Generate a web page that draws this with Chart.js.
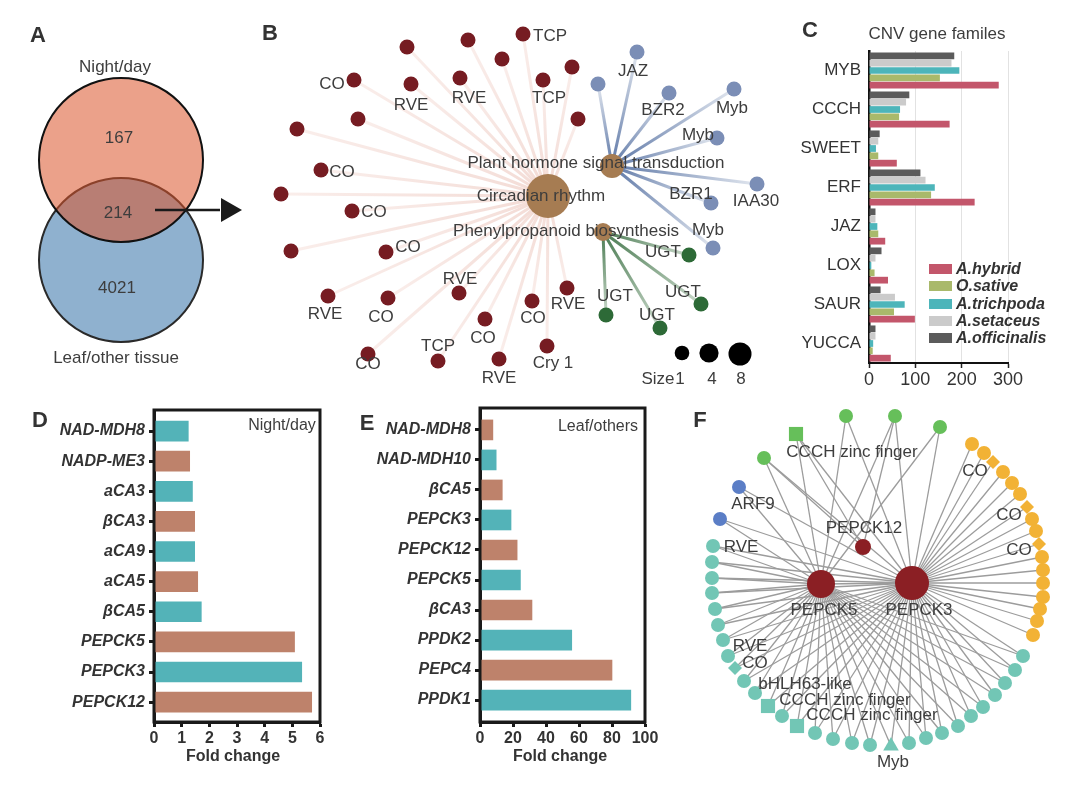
<!DOCTYPE html>
<html lang="en">
<head>
<meta charset="UTF-8">
<title>CNV and C4/CAM gene figure</title>
<script src="https://cdn.jsdelivr.net/npm/chart.js@4"></script>
<style>
    * { margin: 0; padding: 0; box-sizing: border-box; }
    body {
        width: 1076px; height: 807px; position: relative; overflow: hidden;
        background: #fff; color: #3d3d3d;
        font-family: 'Liberation Sans', Arial, sans-serif;
    }
    canvas { position: absolute; }
    .lbl {
        position: absolute; transform: translate(-50%, -50%);
        white-space: nowrap; font-size: 17px; line-height: 1;
    }
    .letter { font-weight: bold; font-size: 22px; color: #333; }
    .b { font-weight: bold; font-size: 16px; color: #333; }
    .sm { font-size: 16px; }
    .leg { position: absolute; height: 18px; }
    .leg span.sw { position: absolute; left: 0; top: 4px; width: 23px; height: 10px; }
    .leg span.tx { position: absolute; left: 27px; top: 0; font-size: 16px; line-height: 18px;
                   font-weight: bold; font-style: italic; color: #333; white-space: nowrap; }
</style>
</head>
<body>
<canvas id="net" width="1076" height="807" style="left:0;top:0"></canvas>
<canvas id="cnv" width="276" height="380" style="left:800px;top:20px"></canvas>
<canvas id="night" width="340" height="400" style="left:0;top:390px"></canvas>
<canvas id="leaf" width="340" height="400" style="left:340px;top:390px"></canvas>

<script>
// ---- A: Venn ----
const vennSets = ['Night/day', 'Leaf/other tissue'];
const vennCounts = [167, 214, 4021];   // night only, shared, leaf only
const vennCentres = [[121, 160], [121, 260]];

// ---- B: KEGG network (node positions in figure units) ----
const bCircadianHub = [548, 196];
const bHormoneHub = [612, 166];
const bPhenylHub = [603, 232];
const bCircadianGenes = [[407, 47], [468, 40], [523, 34], [502, 59], [354, 80], [411, 84], [460, 78],
    [543, 80], [572, 67], [578, 119], [358, 119], [297, 129], [321, 170], [281, 194], [352, 211],
    [291, 251], [386, 252], [328, 296], [388, 298], [459, 293], [485, 319], [532, 301], [567, 288],
    [438, 361], [499, 359], [547, 346], [368, 354]];
const bHormoneGenes = [[637, 52], [598, 84], [669, 93], [734, 89], [717, 138], [757, 184], [711, 203], [713, 248]];
const bPhenylGenes = [[689, 255], [701, 304], [660, 328], [606, 315]];
const bSizeKey = [1, 4, 8];

// ---- C: CNV gene families ----
const cnvFamilies = ['MYB', 'CCCH', 'SWEET', 'ERF', 'JAZ', 'LOX', 'SAUR', 'YUCCA'];
const cnvSpecies = ['A.officinalis', 'A.setaceus', 'A.trichpoda', 'O.sative', 'A.hybrid'];
const cnvOfficinalis = [184, 87, 23, 111, 14, 27, 25, 14];
const cnvSetaceus = [178, 80, 20, 122, 14, 14, 56, 14];
const cnvTrichpoda = [195, 67, 15, 142, 18, 5, 77, 9];
const cnvSative = [153, 65, 20, 134, 20, 12, 54, 8];
const cnvHybrid = [280, 174, 60, 228, 35, 41, 99, 47];

// ---- D: night/day fold change ----
const nightGenes = ['NAD-MDH8', 'NADP-ME3', 'aCA3', 'βCA3', 'aCA9', 'aCA5', 'βCA5', 'PEPCK5', 'PEPCK3', 'PEPCK12'];
const nightFold = [1.24, 1.29, 1.39, 1.47, 1.47, 1.58, 1.71, 5.08, 5.34, 5.70];

// ---- E: leaf/others fold change ----
const leafGenes = ['NAD-MDH8', 'NAD-MDH10', 'βCA5', 'PEPCK3', 'PEPCK12', 'PEPCK5', 'βCA3', 'PPDK2', 'PEPC4', 'PPDK1'];
const leafFold = [7.8, 9.8, 13.5, 18.8, 22.5, 24.5, 31.5, 55.6, 80, 91.4];

// ---- F: PEPCK co-expression network ----
const fPepck5 = [821, 584];
const fPepck3 = [912, 583];
const fPepck12 = [863, 547];
const fGreen = [[846, 416], [895, 416], [940, 427], [764, 458], [796, 434]];
const fGreenShapes = ['circle', 'circle', 'circle', 'circle', 'rect'];
const fGreenTo12 = [1, 3, 4];
const fBlue = [[739, 487], [720, 519]];
const fOrange = [[972, 444], [984, 453], [993, 462], [1003, 472], [1012, 483], [1020, 494], [1027, 507],
    [1032, 519], [1036, 531], [1039, 544], [1042, 557], [1043, 570], [1043, 583], [1043, 597],
    [1040, 609], [1037, 621], [1033, 635]];
const fOrangeShapes = ['circle', 'circle', 'rectRot', 'circle', 'circle', 'circle', 'rectRot', 'circle', 'circle',
    'rectRot', 'circle', 'circle', 'circle', 'circle', 'circle', 'circle', 'circle'];
const fTeal = [[713, 546], [712, 562], [712, 578], [712, 593], [715, 609], [718, 625], [723, 640], [728, 656],
    [735, 668], [744, 681], [755, 693], [768, 706], [782, 716], [797, 726], [815, 733], [833, 739],
    [852, 743], [870, 745], [891, 746], [909, 743], [926, 738], [942, 733], [958, 726], [971, 716],
    [983, 707], [995, 695], [1005, 683], [1015, 670], [1023, 656]];
const fTealShapes = fTeal.map((p, i) => i === 8 ? 'rectRot' : (i === 11 || i === 13) ? 'rect' : i === 18 ? 'triangle' : 'circle');

Chart.defaults.font.family = "'Liberation Sans', Arial, sans-serif";
Chart.defaults.color = '#333';

const pt = p => ({ x: p[0], y: p[1] });

// line between two nodes, optionally fading from hub colour to a paler end
function edge(a, b, c0, c1, w) {
    return {
        data: [pt(a), pt(b)], showLine: true, pointRadius: 0, borderWidth: w, order: 2,
        borderColor: function (ctx) {
            const ch = ctx.chart, sx = ch.scales.x, sy = ch.scales.y;
            if (!c1 || !sx || !sy) return c0;
            const x0 = sx.getPixelForValue(a[0]), y0 = sy.getPixelForValue(a[1]);
            const x1 = sx.getPixelForValue(b[0]), y1 = sy.getPixelForValue(b[1]);
            if (![x0, y0, x1, y1].every(Number.isFinite)) return c0;
            const g = ch.ctx.createLinearGradient(x0, y0, x1, y1);
            g.addColorStop(0, c0);
            g.addColorStop(1, c1);
            return g;
        }
    };
}
function nodes(list, r, color, shapes) {
    return { data: list.map(pt), pointRadius: r, pointBackgroundColor: color, pointBorderWidth: 0,
             pointStyle: shapes || 'circle', order: 0 };
}

const netSets = [];
// Venn circles
netSets.push({ data: [pt(vennCentres[1])], pointRadius: 82, pointBackgroundColor: '#8FB1CF',
               pointBorderColor: '#2a2a2a', pointBorderWidth: 2, order: 6 });
netSets.push({ data: [pt(vennCentres[0])], pointRadius: 82, pointBackgroundColor: 'rgba(219,84,42,0.55)',
               pointBorderColor: '#111', pointBorderWidth: 2, order: 5 });
// arrow to B
netSets.push({ data: [{ x: 155, y: 210 }, { x: 220, y: 210 }], showLine: true, pointRadius: 0,
               borderColor: '#1a1a1a', borderWidth: 2.5, order: 1 });
netSets.push({ data: [{ x: 228, y: 210 }], pointStyle: 'triangle', rotation: 90, pointRadius: 14,
               pointBackgroundColor: '#1a1a1a', pointBorderWidth: 0, order: 1 });

// B edges and nodes
bCircadianGenes.forEach(g => netSets.push(edge(bCircadianHub, g, '#F3DBD5', '#FAEEEB', 3)));
bHormoneGenes.forEach(g => netSets.push(edge(bHormoneHub, g, '#5E78A7', '#E2E7EF', 3)));
bPhenylGenes.forEach(g => netSets.push(edge(bPhenylHub, g, '#4A7B52', '#C9D8CA', 3)));
netSets.push(nodes(bCircadianGenes, 7.5, '#761C22'));
netSets.push(nodes(bHormoneGenes, 7.5, '#7B8EB6'));
netSets.push(nodes(bPhenylGenes, 7.5, '#2D6A37'));
netSets.push(nodes([bCircadianHub, bHormoneHub, bPhenylHub], [22, 12, 9], '#A67C52'));
netSets.push(nodes([[682, 353], [709, 353], [740, 354]], bSizeKey.map(s => 5 + Math.sqrt(s) * 2.3), '#000'));

// F edges and nodes
const grey = '#9C9C9C';
fGreen.concat(fBlue, fTeal).forEach(n => {
    netSets.push(edge(fPepck5, n, grey, null, 1.3));
    netSets.push(edge(fPepck3, n, grey, null, 1.3));
});
fGreenTo12.forEach(i => netSets.push(edge(fPepck12, fGreen[i], grey, null, 1.3)));
fOrange.forEach(n => netSets.push(edge(fPepck3, n, grey, null, 1.3)));
netSets.push(edge(fPepck5, fPepck3, grey, null, 1.3));
netSets.push(nodes(fGreen, fGreenShapes.map(s => s === 'rect' ? 10 : 7), '#66BF5A', fGreenShapes));
netSets.push(nodes(fBlue, 7, '#5B7EC6'));
netSets.push(nodes(fOrange, 7, '#F2B235', fOrangeShapes));
netSets.push(nodes(fTeal, fTealShapes.map(s => s === 'rect' ? 10 : s === 'triangle' ? 9 : 7), '#72C6B5', fTealShapes));
netSets.push(nodes([fPepck5, fPepck3, fPepck12], [14, 17, 8], '#8B1F24'));

new Chart(document.getElementById('net'), {
    type: 'scatter',
    data: { datasets: netSets },
    options: {
        responsive: false, animation: false, events: [],
        layout: { padding: 0, autoPadding: false },
        plugins: { legend: { display: false }, tooltip: { enabled: false } },
        scales: {
            x: { type: 'linear', min: 0, max: 1076, display: false },
            y: { type: 'linear', min: 0, max: 807, reverse: true, display: false }
        }
    }
});

// ---- C chart ----
const cnvColors = ['#5B5B5B', '#CBCBCB', '#4DB5BA', '#A9B96B', '#C3566B'];
const cnvValues = [cnvOfficinalis, cnvSetaceus, cnvTrichpoda, cnvSative, cnvHybrid];
new Chart(document.getElementById('cnv'), {
    type: 'bar',
    data: {
        labels: cnvFamilies,
        datasets: cnvSpecies.map((s, i) => ({ label: s, data: cnvValues[i], backgroundColor: cnvColors[i],
                                              categoryPercentage: 0.94, barPercentage: 0.92 }))
    },
    options: {
        indexAxis: 'y', responsive: false, animation: false, events: [],
        layout: { padding: { left: 0, right: 68, top: 31, bottom: 0 } },
        plugins: { legend: { display: false }, tooltip: { enabled: false } },
        scales: {
            x: {
                min: 0, max: 300,
                ticks: { stepSize: 100, color: '#333', font: { size: 18 }, padding: 1 },
                grid: { color: '#e2e2e2', tickLength: 5, tickColor: '#222', tickWidth: 1.5 },
                border: { color: '#111', width: 2 },
                afterFit: s => { s.height = 37; }
            },
            y: {
                ticks: { color: '#333', font: { size: 17 }, padding: 8 },
                grid: { display: false, drawTicks: false },
                border: { color: '#111', width: 2.5 },
                afterFit: s => { s.width = 69; }
            }
        }
    }
});

// ---- D and E charts ----
const teal = '#53B3B8', brown = '#BE826B';
const framePlugin = {
    id: 'frame',
    afterDraw(chart) {
        const a = chart.chartArea, c = chart.ctx;
        c.save();
        c.strokeStyle = '#1a1a1a';
        c.lineWidth = 3;
        c.strokeRect(a.left, a.top, a.right - a.left, a.bottom - a.top);
        c.restore();
    }
};
function foldChart(id, genes, values, max, step, firstTeal, leftW, rightPad, topPad, yMin, yMax) {
    new Chart(document.getElementById(id), {
        type: 'bar',
        data: {
            datasets: [{
                data: values.map((v, i) => ({ x: v, y: i })),
                backgroundColor: values.map((v, i) => (i % 2 === 0) === firstTeal ? teal : brown),
                barThickness: 20
            }]
        },
        options: {
            indexAxis: 'y', responsive: false, animation: false, events: [],
            layout: { padding: { left: 0, right: rightPad, top: topPad, bottom: 0 } },
            plugins: { legend: { display: false }, tooltip: { enabled: false } },
            scales: {
                x: {
                    min: 0, max: max,
                    ticks: { stepSize: step, color: '#333', font: { size: 16, weight: 'bold' }, padding: 2 },
                    grid: { drawOnChartArea: false, tickLength: 5, tickWidth: 3, tickColor: '#1a1a1a' },
                    border: { color: '#1a1a1a', width: 3 },
                    afterFit: s => { s.height = 400 - 332; }
                },
                y: {
                    type: 'linear', min: yMin, max: yMax, reverse: true, offset: false,
                    afterBuildTicks: s => { s.ticks = genes.map((g, i) => ({ value: i })); },
                    ticks: { autoSkip: false, callback: v => genes[v], color: '#333',
                             font: { size: 16, weight: 'bold', style: 'italic' }, padding: 4 },
                    grid: { offset: false, drawOnChartArea: false, tickLength: 5, tickWidth: 3, tickColor: '#1a1a1a' },
                    border: { color: '#1a1a1a', width: 3 },
                    afterFit: s => { s.width = leftW; }
                }
            }
        },
        plugins: [framePlugin]
    });
}
foldChart('night', nightGenes, nightFold, 6, 1, true, 154, 20, 20, -0.7, 9.66);
foldChart('leaf', leafGenes, leafFold, 100, 20, false, 140, 35, 18, -0.73, 9.73);

// ---- text ----
const notes = [
    ['A', 38, 35, 'letter'], ['B', 270, 33, 'letter'], ['C', 810, 30, 'letter'],
    ['D', 40, 420, 'letter'], ['E', 367, 423, 'letter'], ['F', 700, 420, 'letter'],
    [vennSets[0], 115, 66], [vennSets[1], 116, 357],
    [String(vennCounts[0]), 119, 137], [String(vennCounts[1]), 118, 212], [String(vennCounts[2]), 117, 287],
    ['CO', 332, 83], ['RVE', 411, 104], ['RVE', 469, 97], ['TCP', 550, 35], ['TCP', 549, 97],
    ['JAZ', 633, 70], ['BZR2', 663, 109], ['Myb', 732, 107], ['Myb', 698, 134],
    ['Plant hormone signal transduction', 596, 162], ['Circadian rhythm', 541, 195],
    ['Phenylpropanoid biosynthesis', 566, 230],
    ['BZR1', 691, 193], ['IAA30', 756, 200], ['Myb', 708, 229],
    ['CO', 342, 171], ['CO', 374, 211], ['CO', 408, 246], ['RVE', 460, 278],
    ['UGT', 663, 251], ['UGT', 683, 291], ['UGT', 657, 314], ['UGT', 615, 295],
    ['RVE', 325, 313], ['CO', 381, 316], ['CO', 483, 337], ['CO', 533, 317], ['RVE', 568, 303],
    ['TCP', 438, 345], ['CO', 368, 363], ['RVE', 499, 377], ['Cry 1', 553, 362],
    ['Size', 658, 378], [String(bSizeKey[0]), 680, 378], [String(bSizeKey[1]), 712, 378], [String(bSizeKey[2]), 741, 378],
    ['CNV gene familes', 937, 33],
    ['Night/day', 282, 425, 'sm'], ['Fold change', 233, 756, 'b'],
    ['Leaf/others', 598, 426, 'sm'], ['Fold change', 560, 756, 'b'],
    ['CCCH zinc finger', 852, 451], ['ARF9', 753, 503], ['RVE', 741, 546],
    ['CO', 975, 470], ['CO', 1009, 514], ['CO', 1019, 549],
    ['PEPCK12', 864, 527], ['PEPCK5', 824, 609], ['PEPCK3', 919, 609],
    ['RVE', 750, 645], ['CO', 755, 662], ['bHLH63-like', 805, 683],
    ['CCCH zinc finger', 845, 699], ['CCCH zinc finger', 872, 714], ['Myb', 893, 761]
];
notes.forEach(([t, x, y, cls]) => {
    const d = document.createElement('div');
    d.className = 'lbl ' + (cls || '');
    d.textContent = t;
    d.style.left = x + 'px';
    d.style.top = y + 'px';
    document.body.appendChild(d);
});

// legend for C, A.hybrid first
cnvSpecies.slice().reverse().forEach((s, k) => {
    const row = document.createElement('div');
    row.className = 'leg';
    row.style.left = '929px';
    row.style.top = (260 + k * 17.3) + 'px';
    const sw = document.createElement('span');
    sw.className = 'sw';
    sw.style.background = cnvColors[cnvSpecies.length - 1 - k];
    const tx = document.createElement('span');
    tx.className = 'tx';
    tx.textContent = s;
    row.appendChild(sw);
    row.appendChild(tx);
    document.body.appendChild(row);
});
</script>
</body>
</html>
